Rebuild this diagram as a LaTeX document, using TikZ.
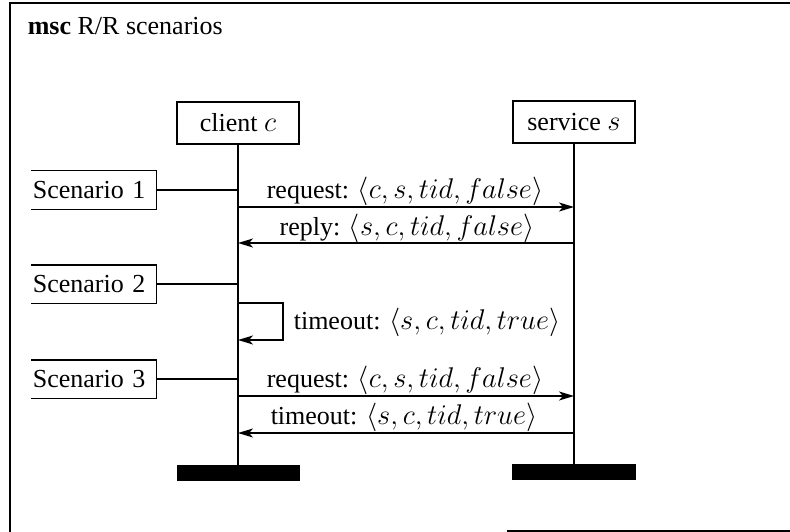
\RequirePackage{fix-cm}
\documentclass[tikz,border=0pt]{standalone}
\usepackage[no-math]{fontspec}
\setmainfont{LiberationSerif}[Extension=.ttf, UprightFont=*-Regular, BoldFont=*-Bold, ItalicFont=*-Italic, BoldItalicFont=*-BoldItalic]
\DeclareMathSizes{26}{28.5}{20}{15}
\usetikzlibrary{arrows.meta}

\begin{document}
\begin{tikzpicture}[x=1pt, y=-1pt,
  font=\fontsize{26}{30}\selectfont,
  line width=1.6pt,
  every node/.style={inner sep=0pt},
  lifebox/.style={draw, minimum width=122pt, minimum height=42pt},
  scenbox/.style={anchor=west, text width=122pt, inner xsep=1pt, minimum height=37pt, align=left},
  msg/.style={-{Stealth[length=15pt, width=9pt, inset=4pt]}},
  lbl/.style={anchor=base}]

  % canvas and the visible parts of the frame
  \useasboundingbox (0,0) rectangle (790,532);
  \draw (790,3) -- (10,3) -- (10,532);
  \draw (507,531) -- (790,531);
  \node[anchor=base west] (title) at (27,35) {\textbf{msc} R/R scenarios};

  % instances
  \node[lifebox] (cl) at (238,123) {client $c$};
  \node[lifebox] (sv) at (574,122) {service $s$};
  \coordinate (clend) at (238,465);
  \coordinate (svend) at (574,465);
  \draw (cl.south) -- (clend);
  \draw (sv.south) -- (svend);
  \fill (177,465) rectangle (300,481);
  \fill (512,464) rectangle (636,480);

  % scenario markers (open on the left)
  \foreach \n/\y in {1/190, 2/284, 3/379} {
    \node[scenbox] (sc\n) at (31,\y) {Scenario \n};
    \draw (sc\n.north west) -- (sc\n.north east) -- (sc\n.south east) -- (sc\n.south west);
    \draw (sc\n.east) -- (sc\n.east -| cl.south);
  }

  % scenario 1
  \coordinate (c1) at (238,207); \coordinate (s1) at (574,207);
  \draw[msg] (c1) -- (s1);
  \node[lbl] (m1) at (405,198) {request: $\langle c, s, tid, false\rangle$};
  \coordinate (c2) at (238,243); \coordinate (s2) at (574,243);
  \draw[msg] (s2) -- (c2);
  \node[lbl] (m2) at (407,235) {reply: $\langle s, c, tid, false\rangle$};

  % scenario 2: local timeout
  \coordinate (t1) at (238,303); \coordinate (t2) at (283,303);
  \coordinate (t3) at (283,340); \coordinate (t4) at (238,340);
  \draw[msg] (t1) -- (t2) -- (t3) -- (t4);
  \node[anchor=west] (m3) at (293,322) {timeout: $\langle s, c, tid, true\rangle$};

  % scenario 3
  \coordinate (c5) at (238,396); \coordinate (s5) at (574,396);
  \draw[msg] (c5) -- (s5);
  \node[lbl] (m4) at (405,387) {request: $\langle c, s, tid, false\rangle$};
  \coordinate (c6) at (238,433); \coordinate (s6) at (574,433);
  \draw[msg] (s6) -- (c6);
  \node[lbl] (m5) at (404,424) {timeout: $\langle s, c, tid, true\rangle$};
\end{tikzpicture}
\end{document}
